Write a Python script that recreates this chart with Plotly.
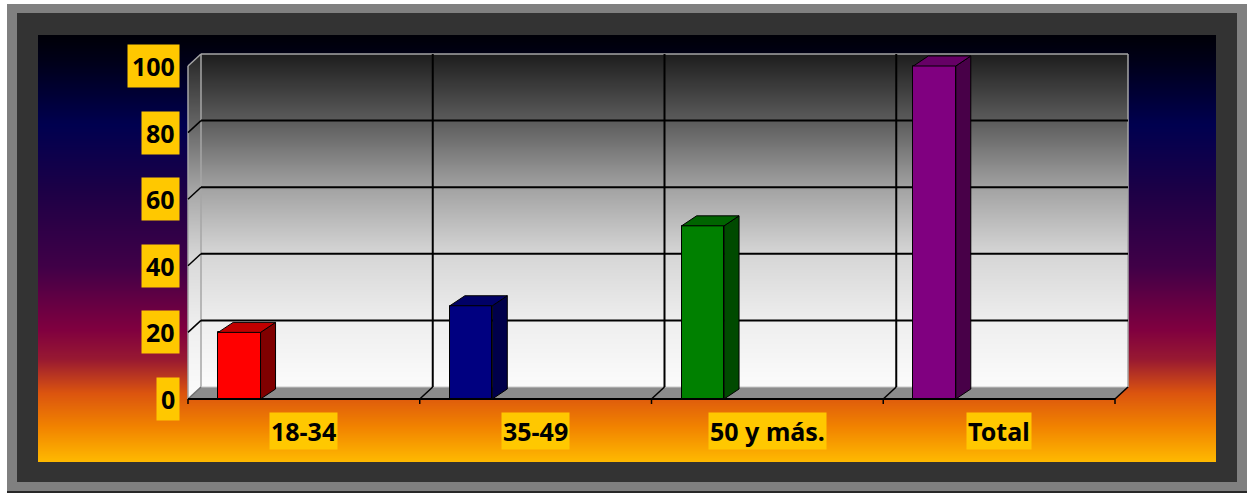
import base64
import struct
import zlib

import numpy as np
import plotly.graph_objects as go

# ---------------- data ----------------
categories = ["18-34", "35-49", "50 y más.", "Total"]
values = [20, 28, 52, 100]
front_colors = ["#FF0000", "#000080", "#008000", "#800080"]
side_colors = ["#800000", "#00004A", "#004A00", "#480048"]
top_colors = ["#C00000", "#000066", "#006400", "#660066"]
y_ticks = [0, 20, 40, 60, 80, 100]

# ---------------- geometry (pixels) ----------------
W, H = 1247, 493
X0_PX = 188.0            # front-left corner of the category axis
CAT_PX = 231.75          # pixels per category
Y0_PX = 399.0            # value 0 on the front plane
PX_PER_UNIT = 3.33       # pixels per value unit
L, R, T, B = 180, 1135, 48, 405   # plot-area box in pixels

x_range = [-0.5 - (X0_PX - L) / CAT_PX, -0.5 + (R - X0_PX) / CAT_PX]
y_range = [-(B - Y0_PX) / PX_PER_UNIT, (Y0_PX - T) / PX_PER_UNIT]
plotW, plotH = R - L, B - T

dxu = 13 / CAT_PX            # wall depth (x units)
dyu = 12 / PX_PER_UNIT       # wall depth (y units)
bdx = 15 / CAT_PX            # bar depth
bdy = 10 / PX_PER_UNIT
BAR_W = 0.183
BAR_OFF = -0.37


def px_x(px):
    return (px - L) / plotW


def px_y(py):
    return (B - py) / plotH


def png_uri(arr):
    h, w, c = arr.shape
    raw = b"".join(b"\x00" + arr[r].tobytes() for r in range(h))
    ctype = 2 if c == 3 else 6

    def chunk(t, d):
        return struct.pack(">I", len(d)) + t + d + struct.pack(">I", zlib.crc32(t + d) & 0xFFFFFFFF)

    png = (b"\x89PNG\r\n\x1a\n"
           + chunk(b"IHDR", struct.pack(">IIBBBBB", w, h, 8, ctype, 0, 0, 0))
           + chunk(b"IDAT", zlib.compress(raw, 9))
           + chunk(b"IEND", b""))
    return "data:image/png;base64," + base64.b64encode(png).decode()


def gradient(n, stops):
    pos = np.array([s[0] for s in stops], float)
    cols = np.array([s[1] for s in stops], float)
    t = np.linspace(0, 1, n)
    out = np.stack([np.interp(t, pos, cols[:, k]) for k in range(cols.shape[1])], axis=1)
    return out.astype(np.uint8)


# ---------------- page background (frame + gradient) ----------------
bg = np.full((H, W, 3), 255, np.uint8)
bg[4:492, 7:W] = (128, 128, 128)
bg[491:493, 7:W] = (40, 40, 40)
bg[13:482, 17:1237] = (51, 51, 51)
gy0, gy1 = 35, 462
ramp = gradient(gy1 - gy0, [
    (0.00, (0, 0, 8)),
    (0.06, (0, 0, 25)),
    (0.21, (0, 0, 80)),
    (0.38, (32, 0, 70)),
    (0.54, (64, 0, 72)),
    (0.69, (128, 0, 64)),
    (0.76, (152, 25, 50)),
    (0.84, (220, 85, 15)),
    (0.92, (242, 132, 0)),
    (1.00, (255, 185, 0)),
])
bg[gy0:gy1, 38:1216] = ramp[:, None, :]
bg_uri = png_uri(bg)

# ---------------- wall gradients ----------------
wall_stops = [(0.0, (30, 30, 30)), (0.2, (92, 92, 92)), (0.4, (162, 162, 162)),
              (0.6, (214, 214, 214)), (0.8, (238, 238, 238)), (1.0, (252, 252, 252))]
wall_h = 333
wall = np.repeat(gradient(wall_h, wall_stops)[:, None, :], 8, axis=1)
wall_uri = png_uri(np.ascontiguousarray(wall))

sw_w, sw_h = 13, 345
side = np.zeros((sw_h, sw_w, 4), np.uint8)
sgrad = gradient(sw_h, [(0.0, (40, 40, 40)), (0.2, (100, 100, 100)), (0.4, (168, 168, 168)),
                        (0.6, (218, 218, 218)), (0.8, (240, 240, 240)), (1.0, (252, 252, 252))])
for c in range(sw_w):
    top = 12 - c * 12 / 13
    bot = sw_h - c * 12 / 13
    for r in range(sw_h):
        if top <= r + 0.5 <= bot:
            side[r, c, :3] = sgrad[r]
            side[r, c, 3] = 255
side_uri = png_uri(side)

fig = go.Figure()

# front faces of the columns
fig.add_trace(go.Bar(
    x=list(range(len(categories))), y=values, width=BAR_W, offset=BAR_OFF,
    marker=dict(color=front_colors, line=dict(color="#000000", width=1)),
    hoverinfo="skip", showlegend=False,
))

# side and top faces
for i, v in enumerate(values):
    xl = i + BAR_OFF
    xr = xl + BAR_W
    fig.add_trace(go.Scatter(
        x=[xr, xr + bdx, xr + bdx, xr, xr], y=[0, bdy, v + bdy, v, 0],
        fill="toself", fillcolor=side_colors[i], mode="lines",
        line=dict(color="#000000", width=1), hoverinfo="skip", showlegend=False))
    fig.add_trace(go.Scatter(
        x=[xl, xr, xr + bdx, xl + bdx, xl], y=[v, v, v + bdy, v + bdy, v],
        fill="toself", fillcolor=top_colors[i], mode="lines",
        line=dict(color="#000000", width=1), hoverinfo="skip", showlegend=False))

n = len(categories)
xa, xb = -0.5, n - 0.5
LAYER = "between"
shapes = []
# floor
shapes.append(dict(type="path", xref="x", yref="y", layer=LAYER,
                   path=f"M {xa},0 L {xb},0 L {xb + dxu},{dyu} L {xa + dxu},{dyu} Z",
                   fillcolor="#8C8C8C", line=dict(width=0)))
# wall borders
grey = "#A6A6A6"
shapes += [
    dict(type="line", xref="x", yref="y", layer=LAYER, x0=xa + dxu, y0=100 + dyu, x1=xb + dxu, y1=100 + dyu,
         line=dict(color=grey, width=1.5)),
    dict(type="line", xref="x", yref="y", layer=LAYER, x0=xb + dxu, y0=dyu, x1=xb + dxu, y1=100 + dyu,
         line=dict(color=grey, width=1.5)),
    dict(type="line", xref="x", yref="y", layer=LAYER, x0=xa + dxu, y0=dyu, x1=xa + dxu, y1=100 + dyu,
         line=dict(color=grey, width=1.5)),
    dict(type="line", xref="x", yref="y", layer=LAYER, x0=xa, y0=0, x1=xa, y1=100,
         line=dict(color=grey, width=1.5)),
    dict(type="line", xref="x", yref="y", layer=LAYER, x0=xa, y0=100, x1=xa + dxu, y1=100 + dyu,
         line=dict(color=grey, width=1.5)),
    dict(type="line", xref="x", yref="y", layer=LAYER, x0=xa + dxu, y0=dyu, x1=xb + dxu, y1=dyu,
         line=dict(color="#C8C8C8", width=1)),
]
# horizontal gridlines (back wall + side wall)
for v in y_ticks:
    if 0 < v < 100:
        shapes.append(dict(type="line", xref="x", yref="y", layer=LAYER,
                           x0=xa + dxu, y0=v + dyu, x1=xb + dxu, y1=v + dyu,
                           line=dict(color="#000000", width=2)))
        shapes.append(dict(type="line", xref="x", yref="y", layer=LAYER,
                           x0=xa, y0=v, x1=xa + dxu, y1=v + dyu,
                           line=dict(color="#000000", width=1.5)))
# vertical gridlines at category boundaries
for k in range(1, n):
    b = k - 0.5
    shapes.append(dict(type="line", xref="x", yref="y", layer=LAYER,
                       x0=b + dxu, y0=dyu, x1=b + dxu, y1=100 + dyu,
                       line=dict(color="#000000", width=2)))
for k in range(0, n + 1):
    b = k - 0.5
    shapes.append(dict(type="line", xref="x", yref="y", layer=LAYER,
                       x0=b, y0=0, x1=b + dxu, y1=dyu,
                       line=dict(color="#000000" if k > 0 else "#707070", width=1.5)))
    shapes.append(dict(type="line", xref="x", yref="y", layer=LAYER,
                       x0=b, y0=0, x1=b, y1=-5 / PX_PER_UNIT,
                       line=dict(color="#000000", width=1.5)))
# front axis line
shapes.append(dict(type="line", xref="x", yref="y", layer=LAYER, x0=xa, y0=0, x1=xb, y1=0,
                   line=dict(color="#000000", width=2)))

images = [
    dict(source=bg_uri, xref="paper", yref="paper", x=px_x(0), y=px_y(0),
         sizex=W / plotW, sizey=H / plotH, sizing="stretch", xanchor="left", yanchor="top", layer="below"),
    dict(source=wall_uri, xref="x", yref="y", x=xa + dxu, y=100 + dyu, sizex=xb - xa, sizey=100,
         sizing="stretch", xanchor="left", yanchor="top", layer="below"),
    dict(source=side_uri, xref="x", yref="y", x=xa, y=100 + dyu, sizex=dxu, sizey=100 + dyu,
         sizing="stretch", xanchor="left", yanchor="top", layer="below"),
]

label_font = dict(family="Noto Sans", size=25, color="#000000", weight=700)
annotations = []
for v in y_ticks:
    annotations.append(dict(text=str(v), xref="paper", yref="y", x=px_x(180), y=v,
                            xanchor="right", yanchor="middle", showarrow=False,
                            bgcolor="#FFC800", borderpad=4, font=label_font))
for i, c in enumerate(categories):
    annotations.append(dict(text=c, xref="x", yref="paper", x=i, y=px_y(431),
                            xanchor="center", yanchor="middle", showarrow=False,
                            bgcolor="#FFC800", borderpad=1, font=label_font))

fig.update_layout(
    width=W, height=H,
    margin=dict(l=L, r=W - R, t=T, b=H - B, autoexpand=False),
    paper_bgcolor="#FFFFFF", plot_bgcolor="rgba(0,0,0,0)",
    xaxis=dict(range=x_range, showgrid=False, zeroline=False, showticklabels=False,
               showline=False, ticks="", fixedrange=True),
    yaxis=dict(range=y_range, showgrid=False, zeroline=False, showticklabels=False,
               showline=False, ticks="", fixedrange=True),
    shapes=shapes, images=images, annotations=annotations,
    bargap=0, showlegend=False,
)

fig.write_html(
    "out.html",
    config={"displayModeBar": False},
    post_script="document.body.style.margin='0';document.body.style.overflow='hidden';",
)
